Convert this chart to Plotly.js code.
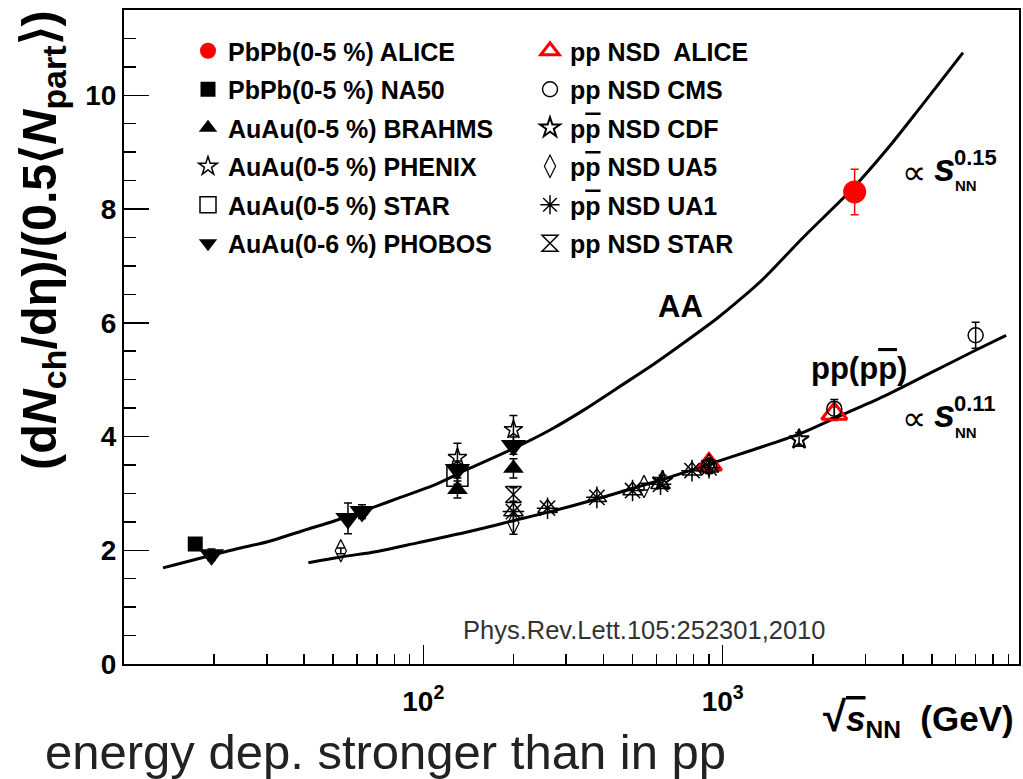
<!DOCTYPE html>
<html>
<head>
<meta charset="utf-8">
<script src="https://cdn.plot.ly/plotly-3.0.1.min.js"></script>
<style>html,body{margin:0;padding:0;background:#fff;} #plot{width:1023px;height:779px;}</style>
</head>
<body>
<div id="plot"></div>
<script>
// ---------- data ----------
// AA fit curve
const aaCurveX = [13.5, 23.2, 30.2, 41.0, 50.1, 70.2, 83.8, 108, 140, 200, 266, 342, 444, 573, 738, 959, 1143, 1365, 1857, 2728, 3540, 4563, 6353];
const aaCurveY = [1.69, 2.01, 2.15, 2.37, 2.51, 2.78, 2.93, 3.14, 3.42, 3.79, 4.12, 4.46, 4.85, 5.23, 5.64, 6.08, 6.41, 6.77, 7.50, 8.37, 9.05, 9.78, 10.75];
// pp fit curve
const ppCurveX = [41.3, 52.8, 70.2, 95.5, 140, 200, 266, 390, 502, 653, 908, 1236, 1815, 2411, 3436, 5047, 7079, 8851];
const ppCurveY = [1.78, 1.88, 1.98, 2.13, 2.32, 2.52, 2.68, 2.92, 3.09, 3.27, 3.52, 3.75, 4.05, 4.34, 4.70, 5.14, 5.53, 5.78];

// AA data
const aliceAAx = [2760], aliceAAy = [8.3], aliceAAe = [0.4];
const na50x = [17.3], na50y = [2.11], na50e = [0.1];
const brahmsX = [130, 200], brahmsY = [3.07, 3.44], brahmsE = [0.15, 0.17];
const phenixX = [130, 200], phenixY = [3.63, 4.12], phenixE = [0.25, 0.25];
const starAAx = [130], starAAy = [3.31], starAAe = [0.15];
const phobosX = [19.6, 56, 62.4, 130, 200], phobosY = [1.92, 2.56, 2.68, 3.42, 3.84], phobosE = [0.1, 0.27, 0.12, 0.15, 0.15];

// pp / ppbar data
const alicePPx = [900, 2360], alicePPy = [3.51, 4.40], alicePPe = [0.1, 0.12];
const cmsX = [900, 2360, 7000], cmsY = [3.48, 4.49, 5.78], cmsE = [0.13, 0.16, 0.23];
const cdfX = [630, 1800], cdfY = [3.22, 3.95], cdfE = [0.1, 0.12];
const ua5X = [53, 200, 546, 900], ua5Y = [1.99, 2.48, 3.12, 3.50], ua5E = [0.05, 0.2, 0.06, 0.08];
const ua1X = [200, 260, 380, 500, 620, 790, 900], ua1Y = [2.68, 2.74, 2.93, 3.05, 3.16, 3.40, 3.45];
const starPPx = [200], starPPy = [2.98], starPPe = [0.12];

// axis ticks
const xMajorVals = [100, 1000];
const xMajorText = ['10<sup>2</sup>', '10<sup>3</sup>'];
const xMinorVals = [20,30,40,50,60,70,80,90,200,300,400,500,600,700,800,900,2000,3000,4000,5000,6000,7000,8000,9000];

// ---------- plotting ----------
const FONT = 'Liberation Sans, Arial, Helvetica, sans-serif';
const errStyle = (arr, color) => ({type:'data', array:arr, visible:true, color:color||'black', thickness:1.5, width:4});

const traces = [
  {x: aaCurveX, y: aaCurveY, mode:'lines', line:{color:'black', width:3, shape:'spline', smoothing:0.8}, showlegend:false, hoverinfo:'skip'},
  {x: ppCurveX, y: ppCurveY, mode:'lines', line:{color:'black', width:3, shape:'spline', smoothing:0.8}, showlegend:false, hoverinfo:'skip'},

  // left legend column
  {name:'<b>PbPb(0-5 %) ALICE</b>', x: aliceAAx, y: aliceAAy, error_y: errStyle(aliceAAe,'red'), mode:'markers',
   marker:{symbol:'circle', size:23, color:'red'}, legend:'legend', legendgroup:'a1'},
  {name:'<b>PbPb(0-5 %) NA50</b>', x: na50x, y: na50y, error_y: errStyle(na50e), mode:'markers',
   marker:{symbol:'square', size:15, color:'black'}, legend:'legend', legendgroup:'a2'},
  {name:'<b>AuAu(0-5 %) BRAHMS</b>', x: brahmsX, y: brahmsY, error_y: errStyle(brahmsE), mode:'markers',
   marker:{symbol:'triangle-up', size:18, color:'black'}, legend:'legend', legendgroup:'a3'},
  {name:'<b>AuAu(0-5 %) PHENIX</b>', x: phenixX, y: phenixY, error_y: errStyle(phenixE), mode:'markers',
   marker:{symbol:'star-open', size:14, color:'black', line:{width:1.5}}, legend:'legend', legendgroup:'a4'},
  {name:'<b>AuAu(0-5 %) STAR</b>', x: starAAx, y: starAAy, error_y: errStyle(starAAe), mode:'markers',
   marker:{symbol:'square-open', size:21, color:'black', line:{width:1.5}}, legend:'legend', legendgroup:'a5'},
  {name:'<b>AuAu(0-6 %) PHOBOS</b>', x: phobosX, y: phobosY, error_y: errStyle(phobosE), mode:'markers',
   marker:{symbol:'triangle-down', size:22, color:'black'}, legend:'legend', legendgroup:'a6'},

  // right legend column
  {name:'<b>pp NSD  ALICE</b>', x: alicePPx, y: alicePPy, error_y: errStyle(alicePPe,'red'), mode:'markers',
   marker:{symbol:'triangle-up-open', size:22, color:'red', line:{width:3}}, legend:'legend2', legendgroup:'b1'},
  {name:'<b>pp NSD CMS</b>', x: cmsX, y: cmsY, error_y: errStyle(cmsE), mode:'markers',
   marker:{symbol:'circle-open', size:15, color:'black', line:{width:1.5}}, legend:'legend2', legendgroup:'b2'},
  {name:'<b>p<span style="text-decoration:overline">p</span> NSD CDF</b>', x: cdfX, y: cdfY, error_y: errStyle(cdfE), mode:'markers',
   marker:{symbol:'star-open', size:15, color:'black', line:{width:2}}, legend:'legend2', legendgroup:'b3'},
  {name:'<b>p<span style="text-decoration:overline">p</span> NSD UA5</b>', x: ua5X, y: ua5Y, error_y: errStyle(ua5E), mode:'markers',
   marker:{symbol:'diamond-tall-open', size:16, color:'black', line:{width:1.2}}, legend:'legend2', legendgroup:'b4'},
  {name:'<b>p<span style="text-decoration:overline">p</span> NSD UA1</b>', x: ua1X, y: ua1Y, mode:'markers',
   marker:{symbol:'asterisk-open', size:18, color:'black', line:{width:1.5}}, legend:'legend2', legendgroup:'b5'},
  {name:'<b>pp NSD STAR</b>', x: starPPx, y: starPPy, error_y: errStyle(starPPe), mode:'markers',
   marker:{symbol:'hourglass-open', size:16, color:'black', line:{width:1.5}}, legend:'legend2', legendgroup:'b6'},
  // triangle part of the UA1 symbol
  {x: ua1X, y: ua1Y, mode:'markers', marker:{symbol:'triangle-up-open', size:17, color:'black', line:{width:1.5}},
   showlegend:false, hoverinfo:'skip'}
];

const L = 124, R = 1019, T = 10, B = 664;
const px = v => (v - L) / (R - L);
const py = v => (B - v) / (B - T);

const legendFont = {family: FONT, size: 25, color: 'black'};

const layout = {
  width: 1023, height: 779,
  margin: {l: L, r: 1023 - R, t: T, b: 779 - B, pad: 0},
  paper_bgcolor: 'white', plot_bgcolor: 'white',
  font: {family: FONT, color: 'black'},
  xaxis: {
    type: 'log', range: [1, 3.99],
    showgrid: false, zeroline: false,
    showline: true, linecolor: 'black', linewidth: 2, mirror: true,
    ticks: 'inside', ticklen: 19, tickwidth: 1.5, tickcolor: 'black',
    tickmode: 'array', tickvals: xMajorVals, ticktext: xMajorText,
    ticklabelstandoff: 11,
    tickfont: {family: FONT, size: 28, weight: 'bold', color: 'black'},
    minor: {tickmode: 'array', tickvals: xMinorVals, ticks: 'inside', ticklen: 10, tickwidth: 1.5, tickcolor: 'black', showgrid: false}
  },
  yaxis: {
    range: [0, 11.5],
    showgrid: false, zeroline: false,
    showline: true, linecolor: 'black', linewidth: 2, mirror: true,
    ticks: 'inside', ticklen: 25, tickwidth: 1.5, tickcolor: 'black',
    tickmode: 'linear', tick0: 0, dtick: 2,
    tickfont: {family: FONT, size: 28, weight: 'bold', color: 'black'},
    minor: {dtick: 0.5, tick0: 0, ticks: 'inside', ticklen: 12, tickwidth: 1.5, tickcolor: 'black', showgrid: false}
  },
  legend: {x: px(188), y: py(28), xanchor: 'left', yanchor: 'top', bgcolor: 'rgba(0,0,0,0)',
           font: legendFont, traceorder: 'grouped', tracegroupgap: 3, itemsizing: 'trace'},
  legend2: {x: px(530), y: py(28), xanchor: 'left', yanchor: 'top', bgcolor: 'rgba(0,0,0,0)',
            font: legendFont, traceorder: 'grouped', tracegroupgap: 3, itemsizing: 'trace'},
  showlegend: true,
  annotations: [
    {xref:'paper', yref:'paper', x: px(42), y: py(240), xanchor:'center', yanchor:'middle', textangle: -90, showarrow:false,
     text:'<b>(d<i>N</i><sub>ch</sub>/dη)/(0.5⟨<i>N</i><sub>part</sub>⟩)</b>', font:{family: FONT, size: 48.5, color:'black'}},
    {xref:'paper', yref:'paper', x: px(918), y: py(718), xanchor:'center', yanchor:'middle', showarrow:false,
     text:'<b><span style="font-size:42px">√</span><span style="text-decoration:overline"><i>s</i></span><sub>NN</sub>  (GeV)</b>', font:{family: FONT, size: 35, color:'black'}},
    {xref:'paper', yref:'paper', x: px(680), y: py(306), xanchor:'center', yanchor:'middle', showarrow:false,
     text:'<b>AA</b>', font:{family: FONT, size: 31, color:'black'}},
    {xref:'paper', yref:'paper', x: px(859), y: py(368), xanchor:'center', yanchor:'middle', showarrow:false,
     text:'<b>pp(p<span style="text-decoration:overline">p</span>)</b>', font:{family: FONT, size: 31, color:'black'}},
    // s^0.15 label
    {xref:'paper', yref:'paper', x: px(914), y: py(172), xanchor:'center', yanchor:'middle', showarrow:false,
     text:'∝', font:{family: FONT, size: 34, color:'black'}},
    {xref:'paper', yref:'paper', x: px(944), y: py(168), xanchor:'center', yanchor:'middle', showarrow:false,
     text:'<b><i>s</i></b>', font:{family: FONT, size: 38, color:'black'}},
    {xref:'paper', yref:'paper', x: px(975), y: py(157), xanchor:'center', yanchor:'middle', showarrow:false,
     text:'<b>0.15</b>', font:{family: FONT, size: 22, color:'black'}},
    {xref:'paper', yref:'paper', x: px(966), y: py(186), xanchor:'center', yanchor:'middle', showarrow:false,
     text:'<b>NN</b>', font:{family: FONT, size: 15, color:'black'}},
    // s^0.11 label
    {xref:'paper', yref:'paper', x: px(914), y: py(418), xanchor:'center', yanchor:'middle', showarrow:false,
     text:'∝', font:{family: FONT, size: 34, color:'black'}},
    {xref:'paper', yref:'paper', x: px(944), y: py(414), xanchor:'center', yanchor:'middle', showarrow:false,
     text:'<b><i>s</i></b>', font:{family: FONT, size: 38, color:'black'}},
    {xref:'paper', yref:'paper', x: px(975), y: py(403), xanchor:'center', yanchor:'middle', showarrow:false,
     text:'<b>0.11</b>', font:{family: FONT, size: 22, color:'black'}},
    {xref:'paper', yref:'paper', x: px(966), y: py(432), xanchor:'center', yanchor:'middle', showarrow:false,
     text:'<b>NN</b>', font:{family: FONT, size: 15, color:'black'}},
    {xref:'paper', yref:'paper', x: px(644), y: py(630), xanchor:'center', yanchor:'middle', showarrow:false,
     text:'Phys.Rev.Lett.105:252301,2010', font:{family: FONT, size: 25.5, color:'#333333'}},
    {xref:'paper', yref:'paper', x: px(385), y: py(752), xanchor:'center', yanchor:'middle', showarrow:false,
     text:'energy dep. stronger than in pp', font:{family: FONT, size: 49, color:'#222222'}}
  ]
};

Plotly.newPlot('plot', traces, layout, {displayModeBar: false, staticPlot: true});
</script>
</body>
</html>
